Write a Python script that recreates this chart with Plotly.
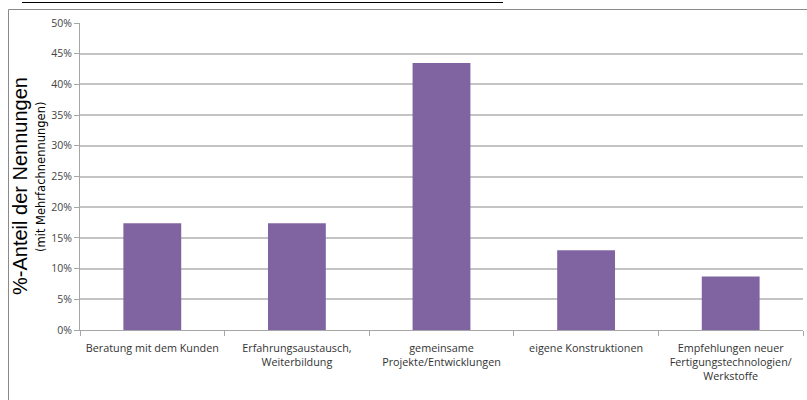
import plotly.graph_objects as go

categories = [
    "Beratung mit dem Kunden",
    "Erfahrungsaustausch,<br>Weiterbildung",
    "gemeinsame<br>Projekte/Entwicklungen",
    "eigene Konstruktionen",
    "Empfehlungen neuer<br>Fertigungstechnologien/<br>Werkstoffe",
]
values = [0.174, 0.174, 0.435, 0.130, 0.087]
y_ticks = [0, 0.05, 0.10, 0.15, 0.20, 0.25, 0.30, 0.35, 0.40, 0.45, 0.50]
y_tick_labels = ["0%", "5%", "10%", "15%", "20%", "25%", "30%", "35%", "40%", "45%", "50%"]

L, R, T, B = 80, 4, 23, 70
W, H = 807, 400
pw, ph = W - L - R, H - T - B

def px(x):
    return (x - L) / pw

def py(y):
    return (H - B - y) / ph

fig = go.Figure(go.Bar(
    x=categories, y=values, marker_color="#8064A2", width=0.4,
    marker_line_width=0,
))

fig.update_layout(
    width=W, height=H,
    margin=dict(l=L, r=R, t=T, b=B),
    plot_bgcolor="white", paper_bgcolor="white",
    showlegend=False,
    font=dict(family="Open Sans, Liberation Sans, Arial", size=10, color="#333333"),
    bargap=0.6,
)
fig.update_xaxes(
    showline=True, linecolor="#a6a6a6", linewidth=1,
    ticks="outside", tickson="boundaries", ticklen=5, tickcolor="#a6a6a6",
    tickfont=dict(size=10.8, color="#333333"),
    ticklabelstandoff=8,
    showgrid=False,
)
fig.update_yaxes(
    range=[0, 0.5], tickvals=y_ticks, ticktext=y_tick_labels,
    showline=True, linecolor="#a6a6a6", linewidth=1,
    ticks="outside", ticklen=5, tickcolor="#a6a6a6",
    showgrid=True, gridcolor="#c4c4c4", gridwidth=1.5,
    tickfont=dict(size=10.5, color="#444444"),
    zeroline=False,
)

fig.add_annotation(
    xref="paper", yref="paper", x=px(20), y=py(186),
    text="%-Anteil der Nennungen", textangle=-90, showarrow=False,
    font=dict(family="Liberation Sans, Arial", size=20, color="#000000"),
    xanchor="center", yanchor="middle",
)
fig.add_annotation(
    xref="paper", yref="paper", x=px(41), y=py(177),
    text="(mit Mehrfachnennungen)", textangle=-90, showarrow=False,
    font=dict(family="DejaVu Sans, Liberation Sans", size=11.5, color="#000000"),
    xanchor="center", yanchor="middle",
)

# outer chart border
fig.add_shape(type="rect", xref="paper", yref="paper",
              x0=px(8.5), x1=px(830), y0=py(9.5), y1=py(430),
              line=dict(color="#8a8a8a", width=1), layer="below")
# underline of cut-off title
fig.add_shape(type="line", xref="paper", yref="paper",
              x0=px(22), x1=px(503), y0=py(2.5), y1=py(2.5),
              line=dict(color="#000000", width=1))

fig.write_html("out.html")
